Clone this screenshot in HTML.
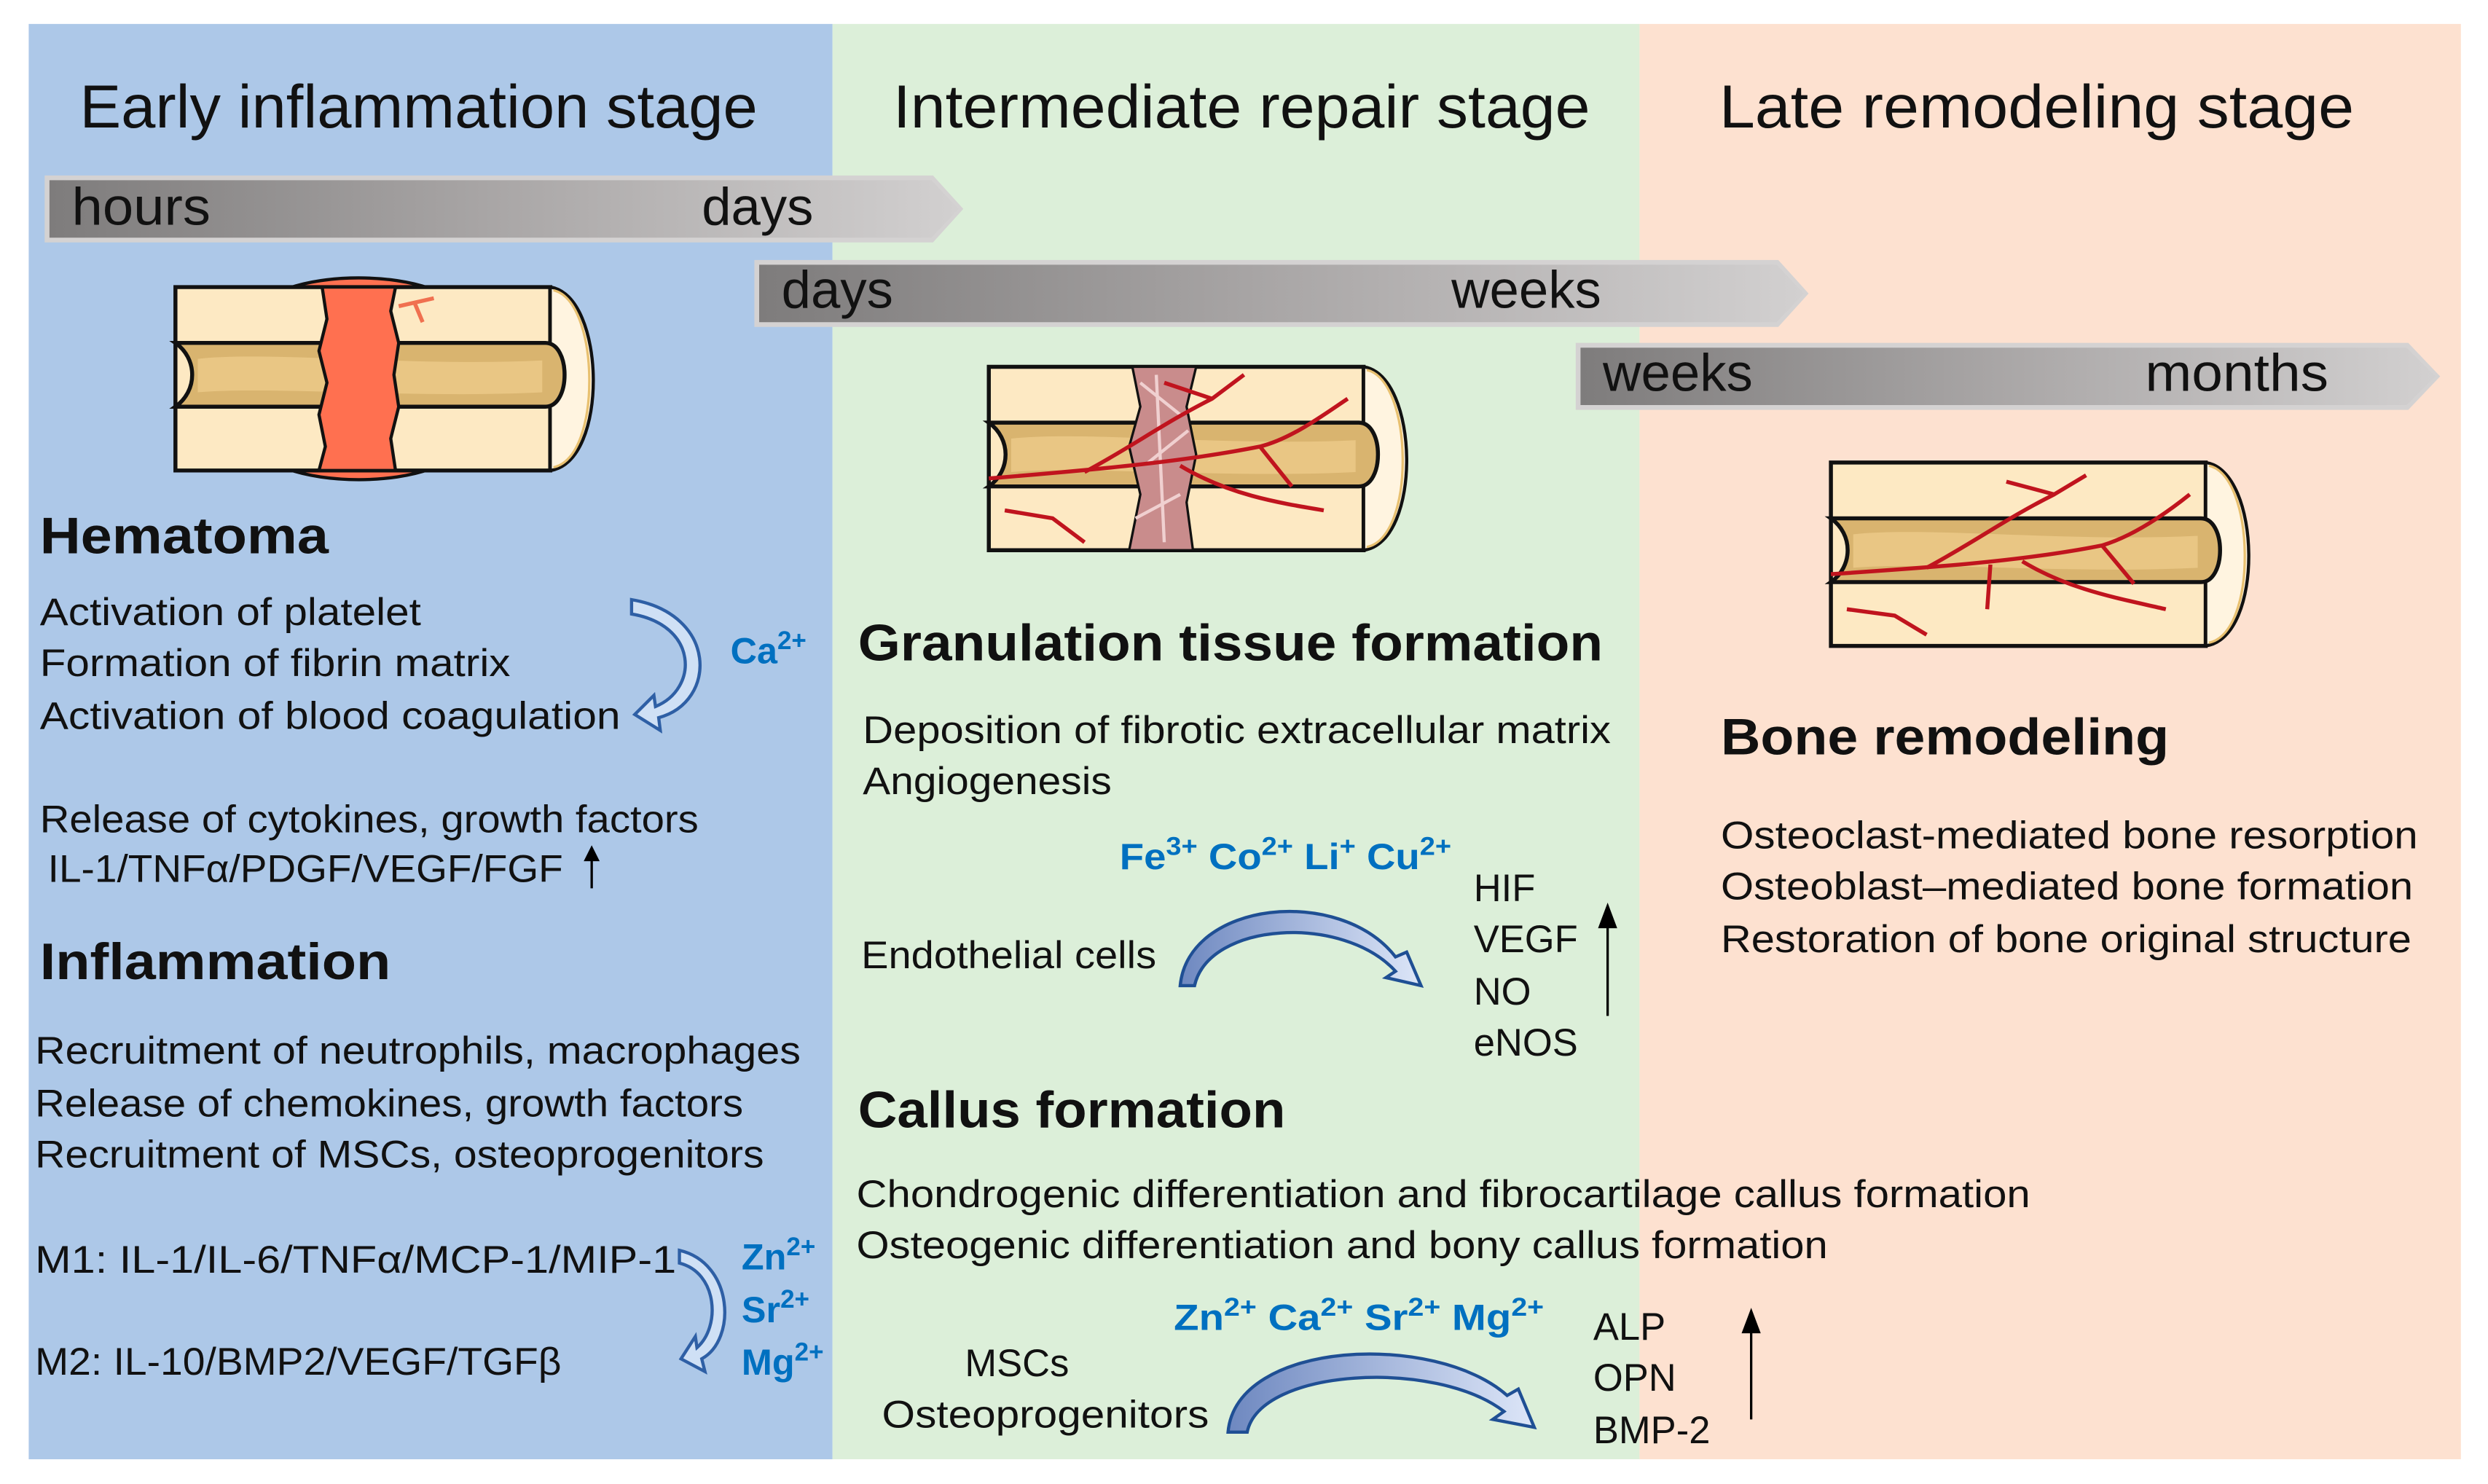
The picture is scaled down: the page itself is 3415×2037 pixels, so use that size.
<!DOCTYPE html>
<html><head><meta charset="utf-8"><style>
html,body{margin:0;padding:0;background:#fff}
svg{display:block}
text{font-family:"Liberation Sans",sans-serif}
</style></head><body>
<svg width="3415" height="2037" viewBox="0 0 1560 930.5" xmlns="http://www.w3.org/2000/svg">
<defs>
<linearGradient id="bar" x1="0" x2="1" y1="0" y2="0"><stop offset="0" stop-color="#7e7c7c"/><stop offset="0.5" stop-color="#aaa7a7"/><stop offset="1" stop-color="#d2d0d0"/></linearGradient>
<linearGradient id="arr" x1="0" x2="1" y1="0" y2="0"><stop offset="0" stop-color="#6e88c0"/><stop offset="1" stop-color="#dde6f8"/></linearGradient>
<g id="bone">
 <path d="M0,0 H235 V115 H0 Z" fill="#fde9c3" stroke="#111" stroke-width="2.5"/>
 <path d="M235,0 C270,5 272,110 235,115 Z" fill="#fff4e0" stroke="#111" stroke-width="2"/>
 <path d="M237,2 C266,8 268,107 237,113" fill="none" stroke="#e8c070" stroke-width="1.5"/>
 <path d="M0,35 H232 C248,35 248,75 232,75 H0 C14,65 14,45 0,35 Z" fill="#d9b46f" stroke="#111" stroke-width="2.5"/>
 <path d="M14,45 C60,40 150,50 230,46 L230,66 C150,70 60,62 14,66 Z" fill="#ecca8a" opacity="0.8"/>
</g>
</defs>
<rect x="18" y="15" width="504" height="900" fill="#adc8e8"/>
<rect x="522" y="15" width="506" height="900" fill="#dcefd9"/>
<rect x="1028" y="15" width="515" height="900" fill="#fde1d0"/>

<g font-size="38" fill="#111">
<text x="50" y="80" textLength="425" lengthAdjust="spacingAndGlyphs">Early inflammation stage</text>
<text x="560" y="80" textLength="437" lengthAdjust="spacingAndGlyphs">Intermediate repair stage</text>
<text x="1078" y="80" textLength="398" lengthAdjust="spacingAndGlyphs">Late  remodeling stage</text>
</g>

<path d="M28,110 H585 L604,131 L585,152 H28 Z" fill="#d4d2d2"/>
<path d="M31,113 H584 L601,131 L584,149 H31 Z" fill="url(#bar)"/>
<path d="M473,163 H1115 L1134,184 L1115,205 H473 Z" fill="#d4d2d2"/>
<path d="M476,166 H1114 L1131,184 L1114,202 H476 Z" fill="url(#bar)"/>
<path d="M988,215 H1510 L1530,236 L1510,257 H988 Z" fill="#d4d2d2"/>
<path d="M991,218 H1509 L1527,236 L1509,254 H991 Z" fill="url(#bar)"/>
<g font-size="33" fill="#111">
<text x="45" y="141" textLength="87" lengthAdjust="spacingAndGlyphs">hours</text>
<text x="440" y="141" textLength="70" lengthAdjust="spacingAndGlyphs">days</text>
<text x="490" y="193" textLength="70" lengthAdjust="spacingAndGlyphs">days</text>
<text x="910" y="193" textLength="94" lengthAdjust="spacingAndGlyphs">weeks</text>
<text x="1005" y="245" textLength="94" lengthAdjust="spacingAndGlyphs">weeks</text>
<text x="1345" y="245" textLength="115" lengthAdjust="spacingAndGlyphs">months</text>
</g>

<g transform="translate(110,180)">
 <path d="M70,1 C95,-8 135,-8 160,1 Z" fill="#ff7050" stroke="#111" stroke-width="2"/>
 <path d="M70,114 C95,123 135,123 160,114 Z" fill="#ff7050" stroke="#111" stroke-width="2"/>
 <use href="#bone"/>
 <path d="M92,0 L95,20 L90,40 L95,60 L90,80 L94,100 L90,115 L138,115 L135,95 L140,75 L137,55 L140,35 L135,15 L138,0 Z" fill="#ff7050" stroke="#111" stroke-width="2"/>
 <path d="M140,12 L162,7 M150,10 L155,22" stroke="#f07050" stroke-width="2.5" fill="none"/>
</g>
<g transform="translate(620,230)">
 <use href="#bone"/>
 <path d="M90,0 L95,25 L88,50 L95,80 L88,115 L128,115 L124,85 L130,55 L124,25 L130,0 Z" fill="#c98c8c" stroke="#111" stroke-width="1.5"/>
 <path d="M95,10 L120,30 M100,60 L125,40 M92,95 L120,80 M105,5 L110,110" stroke="#f0d0d0" stroke-width="2" fill="none"/>
 <g stroke="#c0141e" stroke-width="2.5" fill="none">
 <path d="M0,70 C60,65 120,60 170,50 C190,45 210,30 225,20"/>
 <path d="M60,66 C90,50 110,35 140,20 L160,5"/>
 <path d="M120,62 C150,80 180,85 210,90 M170,50 L190,75 M140,20 L110,10 M10,90 L40,95 L60,110"/>
 </g>
</g>
<g transform="translate(1148,290)">
 <use href="#bone"/>
 <g stroke="#c0141e" stroke-width="2.5" fill="none">
 <path d="M0,70 C60,66 120,62 170,52 C190,46 210,32 225,20"/>
 <path d="M60,66 C90,50 110,35 140,20 L160,8"/>
 <path d="M120,62 C150,80 180,85 210,92 M170,52 L190,76 M140,20 L110,12 M10,92 L40,96 L60,108 M100,64 L98,92"/>
 </g>
</g>

<g fill="#111">
<text x="25" y="347" font-size="32" font-weight="bold" textLength="181" lengthAdjust="spacingAndGlyphs">Hematoma</text>
<g font-size="24">
<text x="25" y="392" textLength="239" lengthAdjust="spacingAndGlyphs">Activation of platelet</text>
<text x="25" y="424" textLength="295" lengthAdjust="spacingAndGlyphs">Formation of fibrin matrix</text>
<text x="25" y="457" textLength="364" lengthAdjust="spacingAndGlyphs">Activation of blood coagulation</text>
<text x="25" y="522" textLength="413" lengthAdjust="spacingAndGlyphs">Release of cytokines, growth factors</text>
<text x="30" y="553" textLength="323" lengthAdjust="spacingAndGlyphs">IL-1/TNFα/PDGF/VEGF/FGF</text>
</g>
<text x="25" y="614" font-size="32" font-weight="bold" textLength="220" lengthAdjust="spacingAndGlyphs">Inflammation</text>
<g font-size="24">
<text x="22" y="667" textLength="480" lengthAdjust="spacingAndGlyphs">Recruitment of neutrophils, macrophages</text>
<text x="22" y="700" textLength="444" lengthAdjust="spacingAndGlyphs">Release of chemokines, growth factors</text>
<text x="22" y="732" textLength="457" lengthAdjust="spacingAndGlyphs">Recruitment of MSCs, osteoprogenitors</text>
<text x="22" y="798" textLength="402" lengthAdjust="spacingAndGlyphs">M1: IL-1/IL-6/TNFα/MCP-1/MIP-1</text>
<text x="22" y="862" textLength="330" lengthAdjust="spacingAndGlyphs">M2: IL-10/BMP2/VEGF/TGFβ</text>
</g>
</g>
<path d="M371,557 V536" stroke="#000" stroke-width="1.5"/><path d="M366,540 L371,530 L376,540 Z" fill="#000"/>
<path d="M396,376 C450,385 450,440 413,450 L414,458 L398,448 L410,436 L411,443 C438,432 438,392 396,385 Z" fill="#cfe0f5" stroke="#2e5fa5" stroke-width="2"/>
<path d="M426,784 C460,792 462,840 440,852 L442,860 L427,852 L436,838 L437,845 C452,832 450,798 426,792 Z" fill="#cfe0f5" stroke="#2e5fa5" stroke-width="2"/>
<g fill="#0070c0" font-weight="bold" font-size="23">
<text x="458" y="416">Ca<tspan font-size="16" dy="-9">2+</tspan></text>
<text x="465" y="796">Zn<tspan font-size="16" dy="-9">2+</tspan></text>
<text x="465" y="829">Sr<tspan font-size="16" dy="-9">2+</tspan></text>
<text x="465" y="862">Mg<tspan font-size="16" dy="-9">2+</tspan></text>
<text x="702" y="545" textLength="208" lengthAdjust="spacingAndGlyphs">Fe<tspan font-size="16" dy="-9">3+</tspan><tspan dy="9"> Co</tspan><tspan font-size="16" dy="-9">2+</tspan><tspan dy="9"> Li</tspan><tspan font-size="16" dy="-9">+</tspan><tspan dy="9"> Cu</tspan><tspan font-size="16" dy="-9">2+</tspan></text>
<text x="736" y="834" textLength="232" lengthAdjust="spacingAndGlyphs">Zn<tspan font-size="16" dy="-9">2+</tspan><tspan dy="9"> Ca</tspan><tspan font-size="16" dy="-9">2+</tspan><tspan dy="9"> Sr</tspan><tspan font-size="16" dy="-9">2+</tspan><tspan dy="9"> Mg</tspan><tspan font-size="16" dy="-9">2+</tspan></text>
</g>

<g fill="#111">
<text x="538" y="414" font-size="32" font-weight="bold" textLength="467" lengthAdjust="spacingAndGlyphs">Granulation tissue formation</text>
<g font-size="24">
<text x="541" y="466" textLength="469" lengthAdjust="spacingAndGlyphs">Deposition of fibrotic extracellular matrix</text>
<text x="541" y="498" textLength="156" lengthAdjust="spacingAndGlyphs">Angiogenesis</text>
<text x="540" y="607" textLength="185" lengthAdjust="spacingAndGlyphs">Endothelial cells</text>
<text x="924" y="565">HIF</text>
<text x="924" y="597">VEGF</text>
<text x="924" y="630">NO</text>
<text x="924" y="662">eNOS</text>
</g>
<text x="538" y="707" font-size="32" font-weight="bold" textLength="268" lengthAdjust="spacingAndGlyphs">Callus formation</text>
<g font-size="24">
<text x="537" y="757" textLength="736" lengthAdjust="spacingAndGlyphs">Chondrogenic differentiation and fibrocartilage callus formation</text>
<text x="537" y="789" textLength="609" lengthAdjust="spacingAndGlyphs">Osteogenic differentiation and bony callus formation</text>
<text x="605" y="863">MSCs</text>
<text x="553" y="895" textLength="205" lengthAdjust="spacingAndGlyphs">Osteoprogenitors</text>
<text x="999" y="840">ALP</text>
<text x="999" y="872">OPN</text>
<text x="999" y="905">BMP-2</text>
</g>
</g>
<path d="M1008,637 V580" stroke="#000" stroke-width="1.5"/><path d="M1002,582 L1008,566 L1014,582 Z" fill="#000"/>
<path d="M1098,890 V834" stroke="#000" stroke-width="1.5"/><path d="M1092,836 L1098,820 L1104,836 Z" fill="#000"/>
<path d="M740,618 C745,565 840,555 875,600 L882,597 L891,618 L869,613 L875,609 C842,573 758,578 749,618 Z" fill="url(#arr)" stroke="#1f4f94" stroke-width="2"/>
<path d="M770,898 C775,840 900,835 945,875 L952,871 L962,895 L936,890 L943,885 C900,852 790,858 782,898 Z" fill="url(#arr)" stroke="#1f4f94" stroke-width="2"/>

<g fill="#111">
<text x="1079" y="473" font-size="32" font-weight="bold" textLength="281" lengthAdjust="spacingAndGlyphs">Bone remodeling</text>
<g font-size="24">
<text x="1079" y="532" textLength="437" lengthAdjust="spacingAndGlyphs">Osteoclast-mediated bone resorption</text>
<text x="1079" y="564" textLength="434" lengthAdjust="spacingAndGlyphs">Osteoblast–mediated bone formation</text>
<text x="1079" y="597" textLength="433" lengthAdjust="spacingAndGlyphs">Restoration of bone original structure</text>
</g>
</g>
</svg>
</body></html>
